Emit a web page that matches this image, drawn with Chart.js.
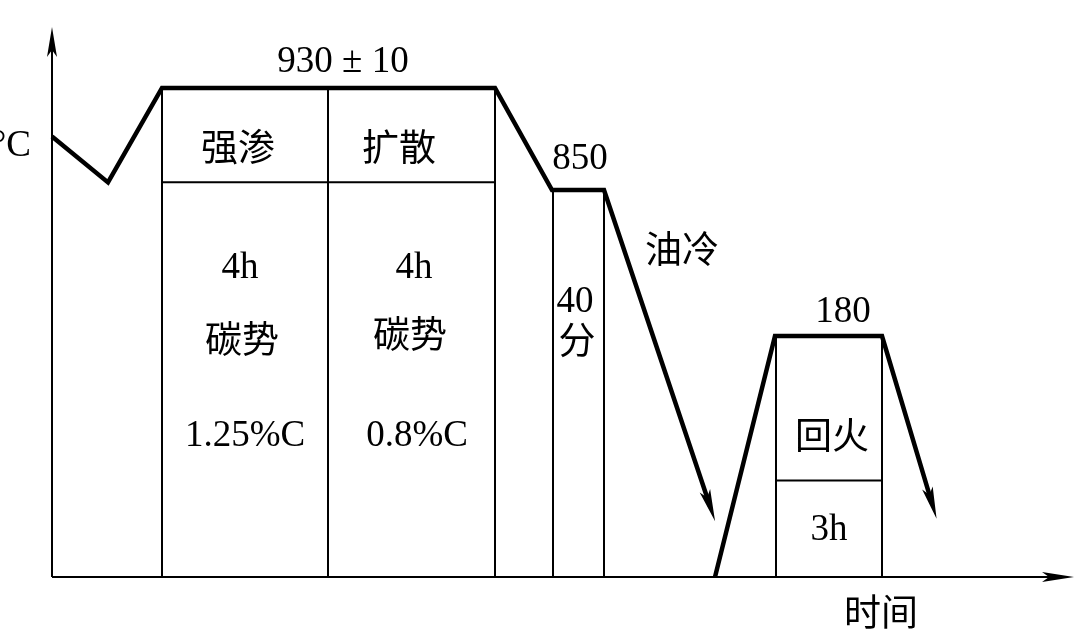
<!DOCTYPE html>
<html>
<head>
<meta charset="utf-8">
<script src="https://cdn.jsdelivr.net/npm/chart.js@4.4.1/dist/chart.umd.min.js"></script>
<style>
  html, body { margin: 0; padding: 0; background: #fff; }
  #wrap { width: 1080px; height: 634px; position: relative; }
</style>
</head>
<body>
<div id="wrap"><canvas id="process"></canvas></div>
<script>
// Process temperatures (°C)
const carburizeTemp = 930;
const carburizeTol = 10;
const hardenTemp = 850;
const temperTemp = 180;

// Carburizing, diffusion, hardening soak and oil quench (schematic time units)
const quenchTimes = [0, 56, 110, 443, 500, 552, 658];
const quenchTemps = [892, 856, carburizeTemp, carburizeTemp, hardenTemp, hardenTemp, 53];

// Tempering cycle
const temperTimes = [663, 723, 830, 880];
const temperTemps = [0, temperTemp, temperTemp, 55];

// Stage boundaries (vertical rules up to the stage temperature)
const boundaryTimes = [110, 276, 443, 501, 552, 724, 830];
const boundaryTops = [carburizeTemp, carburizeTemp, carburizeTemp, hardenTemp, hardenTemp, temperTemp, temperTemp];

// Horizontal rules splitting the stage boxes
const splitFrom = [110, 724];
const splitTo = [443, 830];
const splitTemps = [856, 72];

// Stage texts
const stageNames = ['强渗', '扩散', '回火'];
const stageDurations = ['4h', '4h', '40', '3h'];
const carbonPotentials = ['1.25%C', '0.8%C'];

// Temperature axis whose spacing changes between the process levels
class SteppedScale extends Chart.LinearScale {
  static id = 'stepped';
  _decimalOf(value) {
    const stops = this.options.stops;
    let i = 0;
    while (i < stops.length - 2 && value > stops[i + 1][0]) i++;
    const [v0, d0] = stops[i];
    const [v1, d1] = stops[i + 1];
    return d0 + (value - v0) * (d1 - d0) / (v1 - v0);
  }
  getPixelForValue(value) {
    if (value === null || value === undefined || isNaN(value)) return NaN;
    return this.getPixelForDecimal(this._decimalOf(value));
  }
  getValueForPixel(pixel) {
    const dec = this.getDecimalForPixel(pixel);
    const stops = this.options.stops;
    let i = 0;
    while (i < stops.length - 2 && dec > stops[i + 1][1]) i++;
    const [v0, d0] = stops[i];
    const [v1, d1] = stops[i + 1];
    return v0 + (dec - d0) * (v1 - v0) / (d1 - d0);
  }
}
Chart.register(SteppedScale);

const toPoints = (xs, ys) => xs.map((x, i) => ({ x, y: ys[i] }));

const rulePoints = [];
boundaryTimes.forEach((t, i) => {
  rulePoints.push({ x: t, y: 0 }, { x: t, y: boundaryTops[i] }, { x: t, y: null });
});
splitTemps.forEach((v, i) => {
  rulePoints.push({ x: splitFrom[i], y: v }, { x: splitTo[i], y: v }, { x: splitTo[i], y: null });
});

const serif = '37px "Liberation Serif", "Times New Roman", serif';
const cjk = '37px "Noto Sans CJK SC", sans-serif';

const notes = [
  { text: `${carburizeTemp} ± ${carburizeTol}`, x: 291, y: 950, font: serif },
  { text: stageNames[0], x: 186, y: 884, font: cjk },
  { text: stageNames[1], x: 347, y: 884, font: cjk },
  { text: stageDurations[0], x: 188, y: 492, font: serif },
  { text: stageDurations[1], x: 362, y: 492, font: serif },
  { text: '碳势', x: 190, y: 178, font: cjk },
  { text: '碳势', x: 358, y: 189, font: cjk },
  { text: carbonPotentials[0], x: 193, y: 105, font: serif },
  { text: carbonPotentials[1], x: 365, y: 105, font: serif },
  { text: String(hardenTemp), x: 528, y: 874, font: serif },
  { text: stageDurations[2], x: 523, y: 336, font: serif },
  { text: '分', x: 525, y: 177, font: cjk },
  { text: '油冷', x: 630, y: 579, font: cjk },
  { text: String(temperTemp), x: 791, y: 290, font: serif },
  { text: stageNames[2], x: 780, y: 106, font: cjk },
  { text: stageDurations[3], x: 777, y: 35, font: serif },
  { text: '时间', x: 829, y: -26, font: cjk },
  { text: '°C', x: -21, y: 884, font: serif, align: 'right' }
];

function arrowHead(ctx, tx, ty, ux, uy, len, half) {
  const nx = -uy, ny = ux;
  const bx = tx - ux * len, by = ty - uy * len;
  const mx = tx - ux * (len - 7), my = ty - uy * (len - 7);
  ctx.beginPath();
  ctx.moveTo(tx, ty);
  ctx.lineTo(bx + nx * half, by + ny * half);
  ctx.lineTo(mx, my);
  ctx.lineTo(bx - nx * half, by - ny * half);
  ctx.closePath();
  ctx.fill();
}

const processDrawing = {
  id: 'processDrawing',
  afterDatasetsDraw(chart) {
    const { ctx } = chart;
    const xs = chart.scales.x, ys = chart.scales.y;
    const ox = xs.getPixelForValue(0), oy = ys.getPixelForValue(0);
    const xEnd = xs.getPixelForValue(xs.max), yEnd = ys.getPixelForValue(ys.max);
    ctx.save();
    ctx.strokeStyle = '#000';
    ctx.fillStyle = '#000';
    ctx.lineWidth = 2;
    ctx.beginPath();
    ctx.moveTo(ox, oy); ctx.lineTo(ox, yEnd + 14);
    ctx.moveTo(ox, oy); ctx.lineTo(xEnd - 14, oy);
    ctx.stroke();
    arrowHead(ctx, ox, yEnd, 0, -1, 30, 5);
    arrowHead(ctx, xEnd, oy, 1, 0, 32, 5);

    [0, 1].forEach(idx => {
      const pts = chart.getDatasetMeta(idx).data;
      const a = pts[pts.length - 2], b = pts[pts.length - 1];
      const dx = b.x - a.x, dy = b.y - a.y, len = Math.hypot(dx, dy);
      const ux = dx / len, uy = dy / len;
      arrowHead(ctx, b.x + ux * 16, b.y + uy * 16, ux, uy, 32, 5.5);
    });

    ctx.textBaseline = 'middle';
    notes.forEach(n => {
      ctx.font = n.font;
      ctx.textAlign = n.align || 'center';
      ctx.fillText(n.text, xs.getPixelForValue(n.x), ys.getPixelForValue(n.y));
    });
    ctx.restore();
  }
};

new Chart(document.getElementById('process'), {
  type: 'scatter',
  data: {
    datasets: [
      {
        data: toPoints(quenchTimes, quenchTemps),
        showLine: true, borderColor: '#000', borderWidth: 4.5,
        borderJoinStyle: 'miter', pointRadius: 0, clip: false
      },
      {
        data: toPoints(temperTimes, temperTemps),
        showLine: true, borderColor: '#000', borderWidth: 4.5,
        borderJoinStyle: 'miter', pointRadius: 0, clip: false
      },
      {
        data: rulePoints,
        showLine: true, spanGaps: false, borderColor: '#000', borderWidth: 2,
        pointRadius: 0, clip: false
      }
    ]
  },
  options: {
    responsive: true,
    maintainAspectRatio: false,
    animation: false,
    events: [],
    layout: { padding: { left: 52, right: 6, top: 27, bottom: 57 } },
    plugins: { legend: { display: false }, tooltip: { enabled: false } },
    scales: {
      x: { type: 'linear', min: 0, max: 1022, display: false },
      y: {
        type: 'stepped', min: 0, max: 978, display: false,
        stops: [[0, 0], [temperTemp, 0.4382], [hardenTemp, 0.7036], [carburizeTemp, 0.8891], [978, 1]]
      }
    }
  },
  plugins: [processDrawing]
});
</script>
</body>
</html>
